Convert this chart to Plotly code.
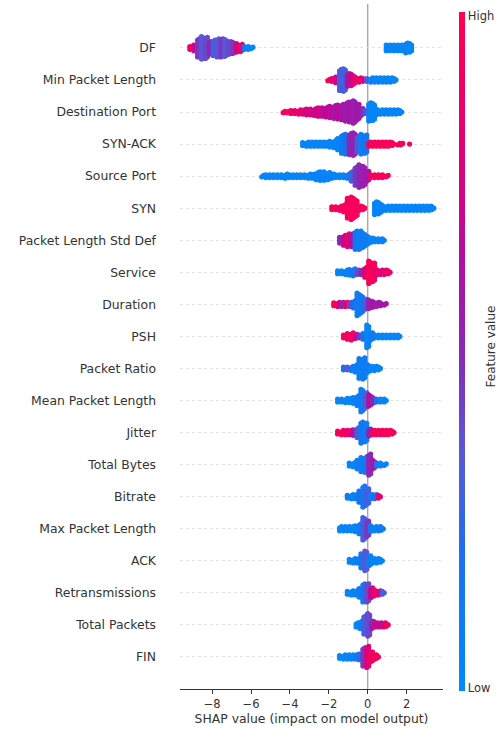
import plotly.graph_objects as go

# ---------------- data ----------------
features = ["DF", "Min Packet Length", "Destination Port", "SYN-ACK", "Source Port",
            "SYN", "Packet Length Std Def", "Service", "Duration", "PSH",
            "Packet Ratio", "Mean Packet Length", "Jitter", "Total Bytes", "Bitrate",
            "Max Packet Length", "ACK", "Retransmissions", "Total Packets", "FIN"]

x_tick_vals = [-8, -6, -4, -2, 0, 2]
colorbar_labels = ["Low", "High"]

# each bin: (SHAP value, number of points stacked there, mean feature value 0..1)
df_bins = [(-9.1, 3, .9), (-8.9, 5, .7), (-8.7, 14, .45), (-8.5, 17, .35), (-8.3, 16, .4),
           (-8.1, 10, .5), (-7.9, 12, .3), (-7.7, 14, .35), (-7.5, 14, .45), (-7.3, 13, .35),
           (-7.1, 10, .4), (-6.9, 9, .45), (-6.7, 7, .75), (-6.5, 6, .85), (-6.3, 3, .1),
           (-6.1, 3, .05), (-5.95, 2, .05),
           (1.0, 5, .05), (1.2, 5, .05), (1.4, 5, .05), (1.6, 5, .05), (1.8, 5, .05),
           (2.0, 8, .05), (2.2, 7, .05)]
min_pkt_len_bins = [(-2.0, 2, .95), (-1.8, 3, .9), (-1.6, 5, .7), (-1.4, 16, .3), (-1.2, 17, .3),
                    (-1.0, 10, .6), (-0.8, 9, .75), (-0.6, 5, .85), (-0.4, 4, .85), (-0.2, 3, .8),
                    (0.0, 3, .3), (0.2, 4, .05), (0.4, 4, .05), (0.6, 4, .05), (0.8, 4, .05),
                    (1.0, 4, .05), (1.2, 4, .05), (1.4, 3, .05)]
dst_port_bins = [(-4.3, 2, .95), (-4.1, 2, .95), (-3.9, 3, .9), (-3.7, 3, .85), (-3.5, 4, .85),
                 (-3.3, 4, .8), (-3.1, 5, .75), (-2.9, 5, .8), (-2.7, 6, .7), (-2.5, 7, .75),
                 (-2.3, 7, .7), (-2.1, 8, .65), (-1.9, 9, .7), (-1.7, 10, .6), (-1.5, 11, .65),
                 (-1.3, 12, .6), (-1.1, 14, .55), (-0.9, 15, .6), (-0.7, 17, .55), (-0.5, 12, .6),
                 (-0.3, 6, .5), (-0.1, 3, .4), (0.1, 14, .05), (0.3, 13, .05), (0.5, 5, .05),
                 (0.7, 4, .05), (0.9, 4, .05), (1.1, 4, .05), (1.3, 4, .05), (1.5, 4, .05),
                 (1.7, 3, .05)]
syn_ack_bins = [(-3.3, 3, .05), (-3.1, 4, .05), (-2.9, 4, .05), (-2.7, 4, .05), (-2.5, 4, .05),
                (-2.3, 4, .05), (-2.1, 4, .05), (-1.9, 5, .05), (-1.7, 6, .05), (-1.5, 9, .05),
                (-1.3, 14, .1), (-1.1, 15, .2), (-0.9, 16, .5), (-0.7, 17, .55), (-0.5, 12, .3),
                (-0.3, 15, .1), (-0.1, 14, .15), (0.1, 4, .95), (0.3, 4, .95), (0.5, 4, .95),
                (0.7, 4, .95), (0.9, 4, .95), (1.1, 4, .95), (1.3, 3, .95), (1.6, 2, .95),
                (1.75, 2, .95), (2.2, 1, .95)]
src_port_bins = [(-5.4, 2, .05), (-5.2, 3, .05), (-5.0, 3, .05), (-4.8, 3, .05), (-4.6, 3, .05),
                 (-4.4, 3, .05), (-4.2, 4, .05), (-4.0, 3, .05), (-3.8, 3, .05), (-3.6, 3, .05),
                 (-3.4, 3, .05), (-3.2, 3, .05), (-3.0, 4, .05), (-2.8, 4, .05), (-2.6, 6, .05),
                 (-2.4, 7, .05), (-2.2, 7, .05), (-2.0, 6, .05), (-1.8, 4, .05), (-1.6, 3, .05),
                 (-1.4, 3, .05), (-1.2, 3, .05), (-1.0, 4, .1), (-0.8, 8, .3), (-0.6, 14, .45),
                 (-0.4, 17, .5), (-0.2, 15, .55), (0.0, 8, .6), (0.2, 3, .9), (0.4, 3, .95),
                 (0.6, 3, .95), (0.8, 3, .95), (1.0, 2, .95)]
syn_bins = [(-1.8, 3, .95), (-1.6, 3, .95), (-1.4, 4, .95), (-1.2, 6, .95), (-1.0, 15, .95),
            (-0.8, 17, .95), (-0.6, 13, .95), (-0.4, 4, .95), (-0.2, 3, .95),
            (0.4, 10, .05), (0.6, 9, .05), (0.8, 5, .05), (1.0, 4, .05), (1.2, 4, .05),
            (1.4, 4, .05), (1.6, 4, .05), (1.8, 4, .05), (2.0, 4, .05), (2.2, 4, .05),
            (2.4, 4, .05), (2.6, 4, .05), (2.8, 4, .05), (3.0, 4, .05), (3.2, 4, .05),
            (3.35, 3, .05)]
pkt_len_std_bins = [(-1.4, 5, .5), (-1.2, 8, .75), (-1.0, 10, .85), (-0.8, 10, .6), (-0.6, 14, .15),
                    (-0.4, 14, .1), (-0.2, 11, .1), (0.0, 7, .1), (0.2, 4, .05), (0.4, 3, .05),
                    (0.6, 3, .05), (0.8, 3, .05)]
service_bins = [(-1.5, 3, .05), (-1.3, 3, .05), (-1.1, 4, .05), (-0.9, 5, .1), (-0.7, 6, .15),
                (-0.5, 4, .4), (-0.3, 4, .5), (-0.1, 8, .8), (0.1, 17, .95), (0.3, 14, .95),
                (0.5, 5, .85), (0.7, 4, .8), (0.9, 4, .85), (1.1, 3, .9)]
duration_bins = [(-1.7, 3, .95), (-1.5, 4, .8), (-1.3, 4, .5), (-1.1, 4, .9), (-0.9, 4, .4),
                 (-0.7, 6, .2), (-0.5, 17, .1), (-0.3, 13, .15), (-0.1, 8, .3), (0.1, 7, .55),
                 (0.3, 5, .6), (0.5, 4, .55), (0.7, 3, .6), (0.9, 2, .6)]
psh_bins = [(-1.2, 3, .95), (-1.0, 5, .9), (-0.8, 6, .95), (-0.6, 4, .7), (-0.4, 3, .45),
            (-0.2, 5, .2), (0.0, 17, .05), (0.2, 6, .1), (0.4, 3, .1), (0.6, 3, .05),
            (0.8, 3, .05), (1.0, 3, .05), (1.2, 3, .05), (1.4, 3, .05), (1.6, 3, .05)]
pkt_ratio_bins = [(-1.2, 3, .2), (-1.0, 3, .35), (-0.8, 4, .1), (-0.6, 6, .1), (-0.4, 15, .1),
                  (-0.2, 16, .1), (0.0, 7, .1), (0.2, 4, .05), (0.4, 4, .05), (0.6, 3, .05)]
mean_pkt_len_bins = [(-1.5, 3, .05), (-1.3, 3, .05), (-1.1, 4, .05), (-0.9, 4, .05), (-0.7, 5, .05),
                     (-0.5, 8, .1), (-0.3, 17, .1), (-0.1, 12, .3), (0.1, 9, .65), (0.3, 5, .5),
                     (0.5, 3, .2), (0.7, 3, .05), (0.9, 3, .05)]
jitter_bins = [(-1.5, 3, .95), (-1.3, 4, .95), (-1.1, 4, .9), (-0.9, 4, .85), (-0.7, 5, .6),
               (-0.5, 8, .3), (-0.3, 16, .15), (-0.1, 14, .1), (0.1, 6, .5), (0.3, 4, .95),
               (0.5, 4, .95), (0.7, 4, .95), (0.9, 4, .95), (1.1, 4, .95), (1.3, 3, .95)]
total_bytes_bins = [(-0.9, 3, .05), (-0.7, 4, .05), (-0.5, 7, .1), (-0.3, 11, .1), (-0.1, 12, .15),
                    (0.1, 16, .5), (0.3, 7, .6), (0.5, 3, .15), (0.7, 3, .05), (0.9, 2, .05)]
bitrate_bins = [(-1.0, 3, .1), (-0.8, 4, .05), (-0.6, 4, .1), (-0.4, 9, .2), (-0.2, 16, .15),
                (0.0, 12, .3), (0.2, 4, .1), (0.4, 4, .2), (0.6, 3, .85)]
max_pkt_len_bins = [(-1.4, 4, .05), (-1.2, 4, .05), (-1.0, 4, .05), (-0.8, 4, .05), (-0.6, 5, .05),
                    (-0.4, 8, .1), (-0.2, 17, .3), (0.0, 12, .45), (0.2, 5, .1), (0.4, 4, .05),
                    (0.6, 4, .1), (0.75, 3, .1)]
ack_bins = [(-0.9, 3, .05), (-0.7, 4, .05), (-0.5, 4, .1), (-0.3, 11, .15), (-0.1, 15, .35),
            (0.1, 8, .1), (0.3, 4, .05), (0.5, 4, .05), (0.7, 3, .05)]
retrans_bins = [(-1.0, 3, .05), (-0.8, 4, .05), (-0.6, 4, .05), (-0.4, 7, .1), (-0.2, 14, .15),
                (0.0, 14, .4), (0.2, 8, .7), (0.4, 5, .85), (0.6, 4, .8), (0.8, 3, .3)]
total_pkts_bins = [(-0.55, 4, .05), (-0.35, 6, .1), (-0.15, 14, .3), (0.05, 17, .4), (0.25, 6, .55),
                   (0.45, 4, .8), (0.65, 4, .6), (0.85, 4, .85), (1.0, 3, .9)]
fin_bins = [(-1.4, 3, .05), (-1.2, 4, .05), (-1.0, 4, .05), (-0.8, 4, .05), (-0.6, 4, .1),
            (-0.4, 5, .2), (-0.2, 14, .45), (0.0, 16, .8), (0.2, 8, .9), (0.4, 4, .95),
            (0.5, 3, .9)]

feature_bins = [df_bins, min_pkt_len_bins, dst_port_bins, syn_ack_bins, src_port_bins,
                syn_bins, pkt_len_std_bins, service_bins, duration_bins, psh_bins,
                pkt_ratio_bins, mean_pkt_len_bins, jitter_bins, total_bytes_bins, bitrate_bins,
                max_pkt_len_bins, ack_bins, retrans_bins, total_pkts_bins, fin_bins]

# ---------------- layout geometry ----------------
W, H = 499, 729
M_L, M_R, M_T, M_B = 180, 56, 4, 40
X_RANGE = [-9.655, 3.87]
Y_RANGE = [-1, 20.37]
px_per_y = (H - M_T - M_B) / (Y_RANGE[1] - Y_RANGE[0])
STACK_STEP_PX = 1.4
BIN_STAGGER = 0.05
DOT_SIZE = 5.2

red_blue = [[0.0, "rgb(0,138,250)"], [0.2, "rgb(28,112,238)"], [0.35, "rgb(88,88,214)"],
            [0.5, "rgb(138,40,182)"], [0.65, "rgb(182,12,158)"], [0.8, "rgb(226,0,118)"],
            [1.0, "rgb(255,0,82)"]]

n_feat = len(features)
xs, ys, cs = [], [], []
for i, bins in enumerate(feature_bins):
    row = n_feat - 1 - i
    for v, n, c in bins:
        for k in range(n):
            off = (k - (n - 1) / 2) * STACK_STEP_PX / px_per_y
            xs.append(v + ((k % 2) - 0.5) * 2 * BIN_STAGGER)
            ys.append(row + off)
            cs.append(c)

fig = go.Figure()
fig.add_trace(go.Scatter(
    x=xs, y=ys, mode="markers", hoverinfo="skip",
    marker=dict(size=DOT_SIZE, color=cs, colorscale=red_blue, cmin=0, cmax=1, line=dict(width=0),
                showscale=True,
                colorbar=dict(thickness=6, x=1.061, xanchor="left", xpad=0,
                              lenmode="pixels", len=679, y=0.988, yanchor="top", ypad=0,
                              outlinewidth=0, tickvals=[0.005, 0.995], ticktext=colorbar_labels,
                              ticks="",
                              tickfont=dict(family="DejaVu Sans", size=11.5, color="#333333"))),
    showlegend=False))

fig.add_shape(type="line", x0=0, x1=0, xref="x", yref="paper", y0=0, y1=1,
              line=dict(color="#999999", width=1.2), layer="below")

fig.add_annotation(text="Feature value", xref="paper", yref="paper",
                   x=1 + (490 - (W - M_R)) / (W - M_L - M_R), y=0.5,
                   xanchor="center", yanchor="middle",
                   textangle=-90, showarrow=False,
                   font=dict(family="DejaVu Sans", size=12, color="#333333"))

fig.update_layout(
    width=W, height=H, margin=dict(l=M_L, r=M_R, t=M_T, b=M_B),
    plot_bgcolor="white", paper_bgcolor="white",
    font=dict(family="DejaVu Sans", color="#333333"),
    xaxis=dict(range=X_RANGE, tickvals=x_tick_vals, showgrid=False, zeroline=False,
               showline=True, linecolor="#333333", linewidth=1, ticks="outside", ticklen=4,
               tickcolor="#333333", tickfont=dict(size=11.5, color="#333333"),
               title=dict(text="SHAP value (impact on model output)",
                          font=dict(size=12.4, color="#333333"), standoff=2)),
    yaxis=dict(range=Y_RANGE, tickvals=list(range(n_feat)), ticktext=features[::-1],
               showgrid=True, gridcolor="#e2e2e2", griddash="dot", gridwidth=0.8,
               zeroline=False, showline=False, ticks="", ticklabelstandoff=23,
               tickfont=dict(size=12.4, color="#333333")),
)

fig.write_html("out.html")
